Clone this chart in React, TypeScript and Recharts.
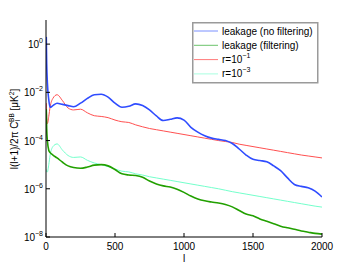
import React from 'react';
import { LineChart, Line, XAxis, YAxis, Legend } from 'recharts';

// multipole l
const ELL = [2, 5, 10, 20, 30, 50, 80, 120, 160, 200, 250, 300, 350, 400, 450, 500, 550, 600, 650, 700, 750, 800, 850, 900, 950, 1000, 1050, 1100, 1150, 1200, 1250, 1300, 1350, 1400, 1450, 1500, 1550, 1600, 1650, 1700, 1750, 1800, 1850, 1900, 1950, 2000];

// log10 of l(l+1)/2pi C_l^BB [uK^2]
const LEAK_NOFILT_LOG = [0.3, -0.8, -1.6, -2.3, -2.62, -2.55, -2.45, -2.5, -2.55, -2.6, -2.45, -2.25, -2.1, -2.08, -2.2, -2.45, -2.62, -2.58, -2.48, -2.55, -2.73, -2.98, -3.17, -3.12, -3.06, -3.15, -3.45, -3.65, -3.8, -3.9, -3.95, -4.0, -4.12, -4.35, -4.6, -4.78, -4.83, -4.88, -5.05, -5.25, -5.55, -5.82, -5.9, -5.96, -6.1, -6.34];
const LEAK_FILT_LOG = [-2.7, -3.5, -4.0, -4.4, -4.5, -4.6, -4.72, -4.9, -5.05, -5.12, -5.15, -5.1, -5.02, -5.0, -5.05, -5.2, -5.38, -5.43, -5.45, -5.52, -5.68, -5.8, -5.88, -5.93, -6.02, -6.15, -6.3, -6.42, -6.5, -6.55, -6.59, -6.65, -6.75, -6.9, -7.05, -7.12, -7.25, -7.35, -7.45, -7.55, -7.62, -7.68, -7.75, -7.8, -7.85, -7.88];
const R1_LOG = [-2.45, -3.0, -3.3, -3.0, -2.6, -2.25, -2.1, -2.35, -2.65, -2.73, -2.7, -2.85, -2.97, -3.0, -3.05, -3.15, -3.22, -3.25, -3.35, -3.43, -3.5, -3.55, -3.6, -3.65, -3.7, -3.75, -3.8, -3.85, -3.9, -3.95, -4.0, -4.04, -4.08, -4.15, -4.2, -4.25, -4.3, -4.35, -4.4, -4.45, -4.5, -4.55, -4.6, -4.64, -4.68, -4.72];
const R3_LOG = [-5.2, -5.3, -5.3, -5.0, -4.6, -4.25, -4.14, -4.4, -4.62, -4.7, -4.68, -4.82, -4.93, -5.0, -5.08, -5.18, -5.27, -5.3, -5.38, -5.43, -5.5, -5.55, -5.6, -5.65, -5.7, -5.75, -5.8, -5.85, -5.9, -5.95, -6.0, -6.06, -6.12, -6.17, -6.22, -6.27, -6.32, -6.37, -6.42, -6.47, -6.52, -6.57, -6.62, -6.67, -6.72, -6.76];

const X_TICKS = [0, 500, 1000, 1500, 2000];
const Y_TICKS = [1e-8, 1e-6, 1e-4, 1e-2, 1];

const LEGEND_LABELS = ['leakage (no filtering)', 'leakage (filtering)', 'r=10', 'r=10'];
const LEGEND_EXPS = ['', '', '−1', '−3'];

const COLORS = ['#2f4cff', '#22a000', '#ff5050', '#74ffcc'];
const LEGEND_COLORS = ['#7b90ff', '#6cc46c', '#ff7a7a', '#a8ffe0'];

const data = ELL.map((l, i) => ({
  l,
  nofilt: Math.pow(10, LEAK_NOFILT_LOG[i]),
  filt: Math.pow(10, LEAK_FILT_LOG[i]),
  r1: Math.pow(10, R1_LOG[i]),
  r3: Math.pow(10, R3_LOG[i]),
}));

const FONT = '"Liberation Sans", Arial, Helvetica, sans-serif';

const YTick = (props: any) => {
  const { x, y, payload } = props;
  const e = Math.round(Math.log10(payload.value));
  const s = e < 0 ? '−' + String(-e) : String(e);
  return (
    <g>
      <line x1={x} x2={x + 4} y1={y} y2={y} stroke="#000" strokeWidth={1} />
      <text x={x - 3} y={y + 4} textAnchor="end" fontSize={10} fontFamily={FONT} fill="#000">
        10<tspan dy={-5} fontSize={7}>{s}</tspan>
      </text>
    </g>
  );
};

const XTick = (props: any) => {
  const { x, y, payload } = props;
  return (
    <g>
      <line x1={x} x2={x} y1={y} y2={y - 4} stroke="#000" strokeWidth={1} />
      <text x={x} y={y + 13} textAnchor="middle" fontSize={10} fontFamily={FONT} fill="#000">
        {payload.value}
      </text>
    </g>
  );
};

const TopTick = (props: any) => {
  const { x, y } = props;
  return <line x1={x} x2={x} y1={y} y2={y + 4} stroke="#000" strokeWidth={1} />;
};

const RightTick = (props: any) => {
  const { x, y } = props;
  return <line x1={x} x2={x - 4} y1={y} y2={y} stroke="#000" strokeWidth={1} />;
};

const LegendBox = () => (
  <svg width={127} height={62} style={{ display: 'block' }}>
    <rect x={0.75} y={0.75} width={125} height={60} fill="#fff" stroke="#9a9a9a" strokeWidth={1.5} />
    {LEGEND_LABELS.map((lab, i) => {
      const yy = 9 + i * 14.3;
      return (
        <g key={i}>
          <line x1={2} x2={26} y1={yy} y2={yy} stroke={LEGEND_COLORS[i]} strokeWidth={1} />
          <text x={30} y={yy + 3.5} fontSize={10} fontFamily={FONT} fill="#000">
            {lab}
            {LEGEND_EXPS[i] ? <tspan dy={-5} fontSize={7}>{LEGEND_EXPS[i]}</tspan> : null}
          </text>
        </g>
      );
    })}
  </svg>
);

const YLabel = () => (
  <text
    x={0}
    y={0}
    transform="translate(9.5,121) rotate(-90)"
    textAnchor="middle"
    fontSize={10}
    fontFamily={FONT}
    fill="#000"
  >
    l(l+1)/2π C<tspan dy={2.5} fontSize={7}>l</tspan>
    <tspan dx={-2} dy={-6.5} fontSize={6.5}>BB</tspan>
    <tspan dy={4}> [μK</tspan>
    <tspan dy={-4} fontSize={6.5}>2</tspan>
    <tspan dy={4}>]</tspan>
  </text>
);

export default function App() {
  return (
    <div style={{ width: 348, height: 259, position: 'relative', background: '#fff' }}>
      <LineChart width={348} height={259} data={data} margin={{ top: 12, right: 34, left: 0, bottom: 0 }}>
        <XAxis
          xAxisId="b"
          dataKey="l"
          type="number"
          domain={[0, 2000]}
          ticks={X_TICKS}
          allowDataOverflow
          height={30}
          tickSize={0}
          tickMargin={0}
          tickLine={false}
          tick={<XTick />}
          axisLine={{ stroke: '#000', strokeWidth: 1 }}
          label={{ value: 'l', position: 'insideBottom', offset: 5, fontSize: 10, fontFamily: FONT, fill: '#000' } as any}
        />
        <XAxis
          xAxisId="t"
          orientation="top"
          type="number"
          domain={[0, 2000]}
          ticks={X_TICKS}
          allowDataOverflow
          height={0}
          tickSize={0}
          tickMargin={0}
          tickLine={false}
          tick={<TopTick />}
          axisLine={{ stroke: '#8a8a8a', strokeWidth: 1.5 }}
        />
        <YAxis
          yAxisId="l"
          scale="log"
          type="number"
          domain={[1e-8, 10]}
          ticks={Y_TICKS}
          allowDataOverflow
          width={38}
          tickSize={0}
          tickMargin={0}
          tickLine={false}
          tick={<YTick />}
          axisLine={{ stroke: '#000', strokeWidth: 1 }}
          label={{ content: () => <YLabel /> } as any}
        />
        <YAxis
          yAxisId="r"
          orientation="right"
          scale="log"
          type="number"
          domain={[1e-8, 10]}
          ticks={Y_TICKS}
          allowDataOverflow
          width={0}
          tickSize={0}
          tickMargin={0}
          tickLine={false}
          tick={<RightTick />}
          axisLine={{ stroke: '#6a6a6a', strokeWidth: 1 }}
        />
        <Line xAxisId="b" yAxisId="l" type="monotone" dataKey="r1" stroke={COLORS[2]} strokeWidth={1} dot={false} isAnimationActive={false} />
        <Line xAxisId="b" yAxisId="l" type="monotone" dataKey="r3" stroke={COLORS[3]} strokeWidth={1} dot={false} isAnimationActive={false} />
        <Line xAxisId="b" yAxisId="l" type="monotone" dataKey="nofilt" stroke={COLORS[0]} strokeWidth={1.6} dot={false} isAnimationActive={false} />
        <Line xAxisId="b" yAxisId="l" type="monotone" dataKey="filt" stroke={COLORS[1]} strokeWidth={1.6} dot={false} isAnimationActive={false} />
        <Legend
          layout="vertical"
          align="center"
          verticalAlign="middle"
          content={() => <LegendBox />}
          wrapperStyle={{ position: 'absolute', left: 184, top: 14, width: 127, height: 62, margin: 0, padding: 0 }}
        />
      </LineChart>
    </div>
  );
}
